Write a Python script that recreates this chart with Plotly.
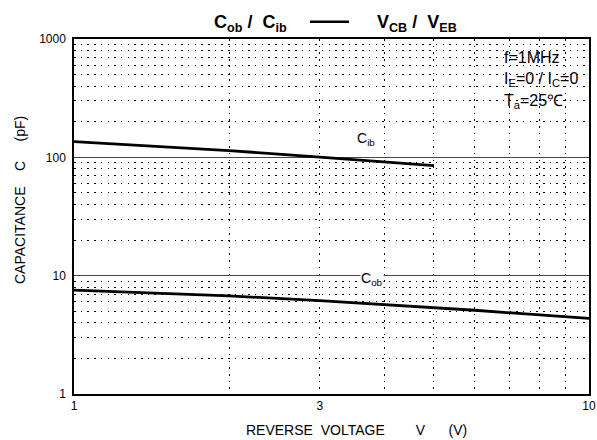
import plotly.graph_objects as go

# ---- data ----
v_ib = [1, 2, 3, 4, 5]
c_ib = [136, 114, 100.5, 91, 85]
v_ob = [1, 2, 3, 6, 10]
c_ob = [7.55, 6.75, 6.15, 5.1, 4.35]

x_ticks = [1, 3, 10]
x_ticktext = ["1", "3", "10"]
y_ticks = [1, 10, 100, 1000]
y_ticktext = ["1", "10", "100", "1000"]
x_minor = [2, 3, 4, 5, 6, 7, 8, 9]
y_minor = [2, 3, 4, 5, 6, 7, 8, 9,
           20, 30, 40, 50, 60, 70, 80, 90,
           200, 300, 400, 500, 600, 700, 800, 900]

FONT = "Liberation Sans, Arial, Helvetica, sans-serif"
W, H = 597, 440
L, R, T, B = 74, 8, 39, 46
PW, PH = W - L - R, H - T - B


def px(xp):
    return (xp - L) / PW


def py(yp):
    return (H - B - yp) / PH


NB = "\u00a0"

fig = go.Figure()
fig.add_trace(go.Scatter(x=v_ib, y=c_ib, mode="lines",
                         line=dict(color="black", width=2.8), showlegend=False))
fig.add_trace(go.Scatter(x=v_ob, y=c_ob, mode="lines",
                         line=dict(color="black", width=2.8), showlegend=False))

dot = "1.5px,5.2px"
fig.update_xaxes(type="log", range=[0, 1], tickmode="array", tickvals=x_ticks,
                 ticktext=x_ticktext, showgrid=False, zeroline=False,
                 showline=True, mirror=True, linecolor="black", linewidth=1.5,
                 ticks="", tickfont=dict(family=FONT, size=12, color="black"),
                 automargin=False,
                 minor=dict(tickmode="array", tickvals=x_minor, showgrid=True,
                            gridcolor="black", gridwidth=1, griddash=dot, ticks=""))
fig.update_yaxes(type="log", range=[0, 3], tickmode="array", tickvals=y_ticks,
                 ticktext=y_ticktext, showgrid=True, gridcolor="#444", gridwidth=1,
                 zeroline=False, showline=True, mirror=True, linecolor="black",
                 linewidth=1.5, ticks="", ticklabelstandoff=4,
                 tickfont=dict(family=FONT, size=12, color="black"),
                 automargin=False,
                 minor=dict(tickmode="array", tickvals=y_minor, showgrid=True,
                            gridcolor="black", gridwidth=1, griddash=dot, ticks=""))

shapes = [
    dict(type="rect", xref="paper", yref="paper", x0=px(495), x1=px(588),
         y0=py(111), y1=py(40), fillcolor="white", line=dict(width=0), layer="between"),
    dict(type="line", xref="paper", yref="paper", x0=px(310), x1=px(349),
         y0=py(21.7), y1=py(21.7), line=dict(color="black", width=2.5)),
]

ann = []
tf = dict(family=FONT, size=18, color="black")
ann.append(dict(text="<b>C<sub>ob</sub> /" + NB * 2 + "C<sub>ib</sub></b>",
                x=px(289), y=py(23), xanchor="right", yanchor="middle",
                xref="paper", yref="paper", showarrow=False, font=tf))
ann.append(dict(text="<b>V<sub>CB</sub> /" + NB * 2 + "V<sub>EB</sub></b>",
                x=px(375), y=py(23), xanchor="left", yanchor="middle",
                xref="paper", yref="paper", showarrow=False, font=tf))

cf = dict(family=FONT, size=16, color="black")
ann.append(dict(text="f=1MHz", x=px(502), y=py(57), xanchor="left", yanchor="middle",
                xref="paper", yref="paper", showarrow=False, font=cf))
ann.append(dict(text="I<sub>E</sub>=0 / I<sub>C</sub>=0", x=px(502), y=py(80),
                xanchor="left", yanchor="middle",
                xref="paper", yref="paper", showarrow=False, font=cf))
ann.append(dict(text="T<sub>a</sub>=25℃", x=px(502), y=py(101),
                xanchor="left", yanchor="middle",
                xref="paper", yref="paper", showarrow=False, font=cf))

lf = dict(family=FONT, size=14, color="black")
ann.append(dict(text="C<sub>ib</sub>", x=px(366), y=py(139), xanchor="center",
                yanchor="middle", xref="paper", yref="paper", showarrow=False, font=lf))
ann.append(dict(text="C<sub>ob</sub>", x=px(372), y=py(279), xanchor="center",
                yanchor="middle", xref="paper", yref="paper", showarrow=False,
                font=lf, bgcolor="white", borderpad=0))

af = dict(family=FONT, size=14, color="black")
ann.append(dict(text="REVERSE" + NB * 2 + "VOLTAGE" + NB * 8 + "V" + NB * 6 + "(V)",
                x=px(356), y=py(430), xanchor="center", yanchor="middle",
                xref="paper", yref="paper", showarrow=False, font=af))
ann.append(dict(text="CAPACITANCE" + NB * 4 + "C" + NB * 5 + "(pF)",
                x=px(20), y=py(200), xanchor="center", yanchor="middle",
                textangle=-90, xref="paper", yref="paper", showarrow=False, font=af))

fig.update_layout(width=W, height=H, margin=dict(l=L, r=R, t=T, b=B),
                  paper_bgcolor="white", plot_bgcolor="white",
                  shapes=shapes, annotations=ann, showlegend=False)

fig.write_html("out.html", config={"displayModeBar": False},
               post_script="document.body.style.margin='0px';"
                           "document.body.style.overflow='hidden';")
